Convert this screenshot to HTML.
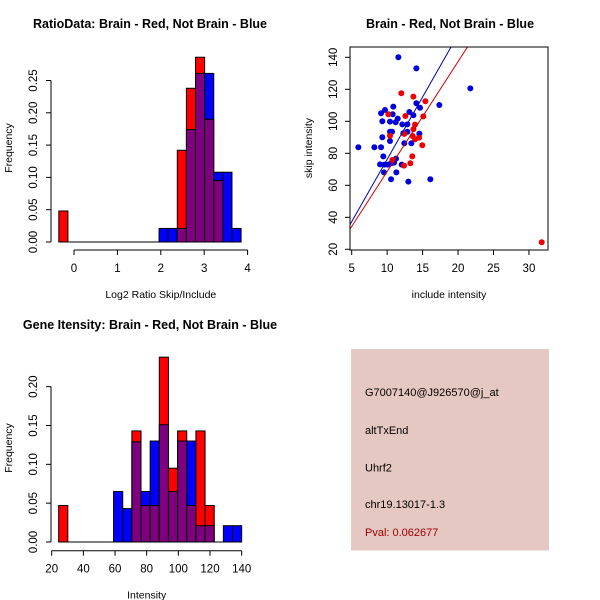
<!DOCTYPE html>
<html><head><meta charset="utf-8"><style>
body{margin:0;background:#fff}
svg{display:block;font-family:"Liberation Sans",sans-serif}
</style></head><body>
<svg id="c" width="600" height="600" viewBox="0 0 600 600">
<rect width="600" height="600" fill="#fff"/>
<text x="150" y="28" text-anchor="middle" font-weight="bold" font-size="12.5">RatioData: Brain - Red, Not Brain - Blue</text>
<text x="450" y="28" text-anchor="middle" font-weight="bold" font-size="12.5">Brain - Red, Not Brain - Blue</text>
<text x="150" y="329" text-anchor="middle" font-weight="bold" font-size="12.5">Gene Itensity: Brain - Red, Not Brain - Blue</text>
<rect x="351" y="349" width="198" height="201.5" fill="#e5c8c2"/>
<g font-size="11">
<text x="365" y="396">G7007140@J926570@j_at</text>
<text x="365" y="434">altTxEnd</text>
<text x="365" y="471.5">Uhrf2</text>
<text x="365" y="508">chr19.13017-1.3</text>
<text x="365" y="536" fill="#a00000">Pval: 0.062677</text>
</g>
</svg>
<script>
// Ratio histogram data
const ratioStart = -0.35, ratioWidth = 0.21;
const ratioRed  = [0.048,0,0,0,0,0,0,0,0,0,0,0,0,0.142,0.238,0.286,0.19,0.095,0,0];
const ratioBlue = [0,0,0,0,0,0,0,0,0,0,0,0.021,0.021,0.021,0.174,0.261,0.261,0.108,0.108,0.021];
const ratioXTicks = [0,1,2,3,4];
const ratioYTicks = [0,0.05,0.10,0.15,0.20,0.25];
// Intensity histogram data
const intStart = 24.4, intWidth = 5.78;
const intRed  = [0.047,0,0,0,0,0,0,0,0.143,0.047,0.047,0.238,0.095,0.143,0.047,0.143,0.047,0,0,0];
const intBlue = [0,0,0,0,0,0,0.065,0.043,0.129,0.065,0.13,0.151,0.065,0.13,0.13,0.021,0.021,0,0.021,0.021];
const intXTicks = [20,40,60,80,100,120,140];
const intYTicks = [0,0.05,0.10,0.15,0.20];
// Scatter data
const blueX = [11.58,14.12,21.73,17.36,5.94,8.2,9.14,9.32,9.32,9.14,9.7,10.78,10.87,10.4,10.4,10.69,10.4,11.2,11.49,12.14,12.85,12.85,12.28,12.42,13.13,13.7,14.12,14.63,14.54,13.41,9.0,9.46,9.6,10.07,10.55,10.97,11.25,12.05,9.55,11.3,10.55,12.99,16.09];
const blueY = [140,133.1,120.6,110.2,83.75,83.75,83.75,90,100,105,107.1,104.4,109.2,99.8,93.5,93.5,87.7,99.4,101.7,98.1,98.1,93.5,92.5,86.25,105.8,103.75,111.25,108.5,92.3,86.25,73.1,78.1,72.9,72.9,73.75,74.2,76.7,72.9,68.1,68.1,63.75,62.3,63.75];
const redX = [12.0,13.7,15.39,10.17,12.57,15.1,13.93,13.7,10.4,12.42,13.6,14.5,13.93,14.96,10.73,12.38,13.27,13.55,31.8];
const redY = [117.5,115.4,112.5,104.4,103.3,103.1,97.9,95,91,92.1,90.8,89.8,88.75,85,75.8,72.3,73.75,78.1,24.4];
const fitBlue = [-1.65, 7.79];
const fitRed = [-0.1, 6.87];
const scXTicks = [5,10,15,20,25,30];
const scYTicks = [20,40,60,80,100,120,140];

const svg = document.getElementById('c');
const NS = 'http://www.w3.org/2000/svg';
function mk(tag, attrs, parent){const e=document.createElementNS(NS,tag);for(const k in attrs)e.setAttribute(k,attrs[k]);(parent||svg).appendChild(e);return e;}
function txt(x,y,s,attrs){const e=mk('text',Object.assign({x:x,y:y,'font-size':11.5},attrs||{}));e.textContent=s;return e;}
const RED='#ff0000', BLUE='#0000ff', PURPLE='#7f007f';

function hist(name, start, width, red, blue, xs, ys, xT, yT, yAxisX, xAxisY, xlab, ylab, labY){
  const g=mk('g',{});
  
  
  // zero baseline across all bins
  mk('line',{x1:xs(start),x2:xs(start+red.length*width),y1:ys(0),y2:ys(0),stroke:'#000'},g);
  for(let i=0;i<red.length;i++){
    const x0=xs(start+i*width), x1=xs(start+(i+1)*width);
    const r=red[i], b=blue[i];
    const hi=Math.max(r,b), lo=Math.min(r,b);
    if(hi<=0) continue;
    const col = r>=b?RED:BLUE;
    const bar=mk('rect',{x:x0,y:ys(hi),width:x1-x0,height:ys(0)-ys(hi),fill:hi>lo?col:PURPLE,stroke:'#000','stroke-width':1},g);
    
    
    if(lo>0 && hi>lo){
      const p=mk('rect',{x:x0,y:ys(lo),width:x1-x0,height:ys(0)-ys(lo),fill:PURPLE,stroke:'#000','stroke-width':1},g);
      
      
    }
  }
  mk('line',{x1:xs(xT[0]),x2:xs(xT[xT.length-1]),y1:xAxisY,y2:xAxisY,stroke:'#000'},g);
  xT.forEach(t=>{mk('line',{x1:xs(t),x2:xs(t),y1:xAxisY,y2:xAxisY+5,stroke:'#000'},g);
    const l=txt(xs(t),xAxisY+22,String(t),{'text-anchor':'middle'});g.appendChild(l);});
  mk('line',{x1:yAxisX,x2:yAxisX,y1:ys(yT[0]),y2:ys(yT[yT.length-1]),stroke:'#000'},g);
  yT.forEach(t=>{mk('line',{x1:yAxisX,x2:yAxisX-5,y1:ys(t),y2:ys(t),stroke:'#000'},g);
    const lx=yAxisX-14;
    const l=txt(lx,ys(t),t.toFixed(2),{'text-anchor':'middle',transform:`rotate(-90 ${lx} ${ys(t)})`});g.appendChild(l);});
  const xl=txt((xs(xT[0])+xs(xT[xT.length-1]))/2,xAxisY+48,xlab,{'text-anchor':'middle','font-size':10.5});
  
  
  const yl=txt(12,labY,ylab,{'text-anchor':'middle','font-size':10.5,transform:`rotate(-90 12 ${labY})`});
  
  
}
hist('ratio-histogram', ratioStart, ratioWidth, ratioRed, ratioBlue,
  v=>74+v*43.4, v=>242-v*646, ratioXTicks, ratioYTicks, 51, 250, 'Log2 Ratio Skip/Include', 'Frequency', 148);
hist('intensity-histogram', intStart, intWidth, intRed, intBlue,
  v=>51.7+(v-20)*1.583, v=>542-v*776.7, intXTicks, intYTicks, 51, 550.7, 'Intensity', 'Frequency', 448);

// scatter
const sx=v=>351.7+(v-5)*7.09, sy=v=>249.3-(v-20)*1.6;
const sg=mk('g',{});


const clip=mk('clipPath',{id:'sc'},sg);mk('rect',{x:350,y:47,width:198,height:203},clip);
blueX.forEach((x,i)=>{const c=mk('circle',{cx:sx(x),cy:sy(blueY[i]),r:3,fill:'#0000dd'},sg);
  
  });
redX.forEach((x,i)=>{const c=mk('circle',{cx:sx(x),cy:sy(redY[i]),r:3,fill:'#ee0000'},sg);
  
  });
[[fitBlue,'#0000aa','fit-line-blue'],[fitRed,'#cc0000','fit-line-red']].forEach(([f,c,n])=>{
  const l=mk('line',{x1:sx(4),y1:sy(f[0]+f[1]*4),x2:sx(33),y2:sy(f[0]+f[1]*33),stroke:c,'stroke-width':1,'clip-path':'url(#sc)'},sg);
  
  });
mk('rect',{x:350,y:47,width:198,height:203,fill:'none',stroke:'#000'},sg);
scXTicks.forEach(t=>{mk('line',{x1:sx(t),x2:sx(t),y1:250,y2:255,stroke:'#000'},sg);txt(sx(t),272,String(t),{'text-anchor':'middle'});});
scYTicks.forEach(t=>{mk('line',{x1:350,x2:345,y1:sy(t),y2:sy(t),stroke:'#000'},sg);
  txt(337,sy(t),String(t),{'text-anchor':'middle',transform:`rotate(-90 337 ${sy(t)})`});});
const sxl=txt(449,298,'include intensity',{'text-anchor':'middle','font-size':10.5});


const syl=txt(312,148,'skip intensity',{'text-anchor':'middle','font-size':10.5,transform:'rotate(-90 312 148)'});


</script>
</body></html>
